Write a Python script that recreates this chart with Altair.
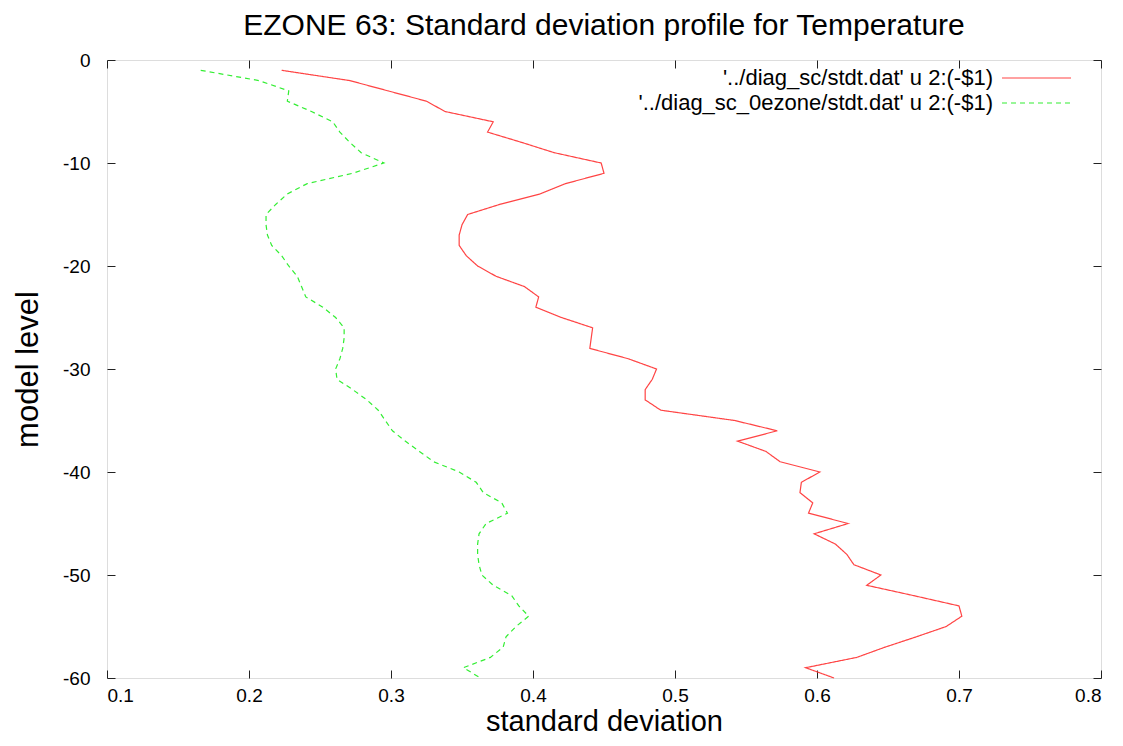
import altair as alt
import pandas as pd

levels = list(range(1, 61))

sd_sc = [
    0.223, 0.271, 0.298, 0.325, 0.338, 0.372, 0.368, 0.392, 0.415, 0.448,
    0.450, 0.423, 0.405, 0.377, 0.354, 0.350, 0.348, 0.348, 0.353, 0.361,
    0.374, 0.394, 0.404, 0.402, 0.420, 0.442, 0.441, 0.440, 0.467, 0.487,
    0.484, 0.479, 0.479, 0.490, 0.542, 0.572, 0.544, 0.564, 0.574, 0.602,
    0.589, 0.588, 0.597, 0.594, 0.622, 0.598, 0.613, 0.621, 0.626, 0.645,
    0.635, 0.668, 0.700, 0.702, 0.691, 0.670, 0.648, 0.628, 0.592, 0.612,
]

sd_0ezone = [
    0.166, 0.207, 0.228, 0.227, 0.244, 0.259, 0.264, 0.271, 0.279, 0.295,
    0.273, 0.241, 0.227, 0.219, 0.212, 0.212, 0.213, 0.216, 0.223, 0.228,
    0.234, 0.237, 0.240, 0.252, 0.261, 0.267, 0.267, 0.266, 0.264, 0.261,
    0.262, 0.273, 0.283, 0.291, 0.296, 0.301, 0.310, 0.320, 0.330, 0.348,
    0.360, 0.365, 0.378, 0.382, 0.367, 0.362, 0.361, 0.361, 0.362, 0.364,
    0.372, 0.385, 0.390, 0.397, 0.388, 0.381, 0.379, 0.370, 0.351, 0.363,
]

series_names = [
    "'../diag_sc/stdt.dat' u 2:(-$1)",
    "'../diag_sc_0ezone/stdt.dat' u 2:(-$1)",
]
series_colors = ["#ff4444", "#33ee33"]
series_dash = [[1, 0], [5, 4]]

x_ticks = [0.1, 0.2, 0.3, 0.4, 0.5, 0.6, 0.7, 0.8]
y_ticks = [0, -10, -20, -30, -40, -50, -60]

FONT = "Liberation Sans"
W, H = 994, 618

df = pd.DataFrame({
    "lvl": levels + levels,
    "level": [-l for l in levels] + [-l for l in levels],
    "sd": sd_sc + sd_0ezone,
    "series": [series_names[0]] * len(levels) + [series_names[1]] * len(levels),
})

xscale = alt.Scale(domain=[0.1, 0.8], nice=False, zero=False)
yscale = alt.Scale(domain=[-60, 0], nice=False, zero=False)

common_axis = dict(
    offset=-8, tickSize=8, tickColor="#222", tickWidth=1, domain=False, grid=False,
    labelFont=FONT, labelFontSize=19, labelColor="#000",
    titleFont=FONT, titleColor="#000", titleFontWeight="normal",
)

lines = alt.Chart(df).mark_line(strokeWidth=1.2).encode(
    x=alt.X("sd:Q", scale=xscale,
            axis=alt.Axis(orient="bottom", values=x_ticks, labelExpr="'' + datum.value",
                          title="standard deviation", titleFontSize=29, labelPadding=8,
                          titlePadding=2, **common_axis)),
    y=alt.Y("level:Q", scale=yscale,
            axis=alt.Axis(orient="left", values=y_ticks, labelExpr="'' + datum.value",
                          title="model level", titleFontSize=31, labelPadding=17,
                          titlePadding=18, **common_axis)),
    color=alt.Color("series:N", scale=alt.Scale(domain=series_names, range=series_colors), legend=None),
    strokeDash=alt.StrokeDash("series:N", scale=alt.Scale(domain=series_names, range=series_dash), legend=None),
    order=alt.Order("lvl:Q"),
)

mirror = alt.Chart(df).mark_point(opacity=0).encode(
    x=alt.X("sd:Q", scale=xscale,
            axis=alt.Axis(orient="top", values=x_ticks, labels=False, title=None, **common_axis)),
    y=alt.Y("level:Q", scale=yscale,
            axis=alt.Axis(orient="right", values=y_ticks, labels=False, title=None, **common_axis)),
)

leg_layers = []
for i, name in enumerate(series_names):
    ypos = 18 + 25 * i
    one = pd.DataFrame({"label": [name]})
    leg_layers.append(
        alt.Chart(one).mark_text(align="right", baseline="middle", font=FONT, fontSize=22, color="#000").encode(
            x=alt.value(886), y=alt.value(ypos), text="label:N"
        )
    )
    leg_layers.append(
        alt.Chart(one).mark_rule(color=series_colors[i], strokeWidth=1.2, strokeDash=series_dash[i]).encode(
            x=alt.value(895), x2=alt.value(964), y=alt.value(ypos)
        )
    )

chart = alt.layer(lines, mirror, *leg_layers).resolve_axis(
    x="independent", y="independent"
).properties(
    width=W, height=H,
    title=alt.TitleParams(
        "EZONE 63: Standard deviation profile for Temperature",
        font=FONT, fontSize=30, fontWeight="normal", color="#000", anchor="middle", offset=10,
    ),
    autosize=alt.AutoSizeParams(type="none"),
    padding={"left": 99, "top": 52, "right": 14, "bottom": 60},
).configure_view(stroke="#222", strokeWidth=1.5).configure(background="white")

chart.save("out.html", embed_options={"renderer": "svg", "actions": False})
